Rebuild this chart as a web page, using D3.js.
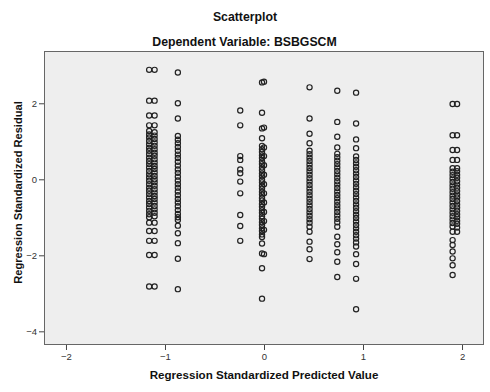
<!DOCTYPE html>
<html><head><meta charset="utf-8">
<script src="https://cdn.jsdelivr.net/npm/d3@7"></script>
<style>body{margin:0;background:#fff}svg{display:block}</style>
</head><body>
<svg id="chart" width="490" height="392"></svg>
<script>
// Predicted value (x) for each column of points
const colX = [-1.16, -1.105, -0.87, -0.24, -0.02, 0.00, 0.46, 0.74, 0.93, 1.905, 1.95];
// Standardized residuals (y) per column
const resA1 = [2.88, 2.07, 1.68, 1.42, 1.27, 1.18, 1.10, 1.01, 0.92, 0.83, 0.75, 0.66, 0.57, 0.48, 0.40, 0.31, 0.22, 0.13, 0.05, -0.04, -0.13, -0.22, -0.30, -0.39, -0.48, -0.57, -0.65, -0.74, -0.83, -0.92, -1.00, -1.14, -1.36, -1.62, -1.99, -2.82];
const resA2 = [2.88, 2.07, 1.68, 1.42, 1.24, 1.15, 1.06, 0.97, 0.88, 0.79, 0.70, 0.62, 0.53, 0.44, 0.35, 0.27, 0.18, 0.09, 0.00, -0.08, -0.17, -0.26, -0.35, -0.44, -0.52, -0.61, -0.70, -0.79, -0.88, -0.97, -1.14, -1.36, -1.62, -1.99, -2.82];
const resB = [2.81, 2.00, 1.60, 1.14, 1.04, 0.95, 0.85, 0.75, 0.65, 0.56, 0.46, 0.36, 0.26, 0.17, 0.07, -0.03, -0.13, -0.22, -0.32, -0.42, -0.52, -0.61, -0.71, -0.81, -0.91, -1.00, -1.07, -1.22, -1.42, -1.68, -2.09, -2.89];
const resC = [1.81, 1.42, 0.61, 0.51, 0.26, 0.16, -0.06, -0.37, -0.94, -1.23, -1.62];
const resD1 = [2.55, 1.75, 1.34, 1.08, 0.88, 0.79, 0.72, 0.63, 0.56, 0.47, 0.40, 0.31, 0.24, 0.15, 0.08, -0.01, -0.08, -0.17, -0.24, -0.33, -0.40, -0.49, -0.56, -0.65, -0.72, -0.81, -0.88, -0.97, -1.04, -1.13, -1.20, -1.29, -1.36, -1.45, -1.52, -1.69, -1.95, -2.34, -3.14];
const resD2 = [2.57, 1.36, 0.84, 0.61, 0.37, 0.12, -0.13, -0.37, -0.61, -0.86, -1.10, -1.33, -1.97];
const resE = [2.42, 1.60, 1.20, 0.95, 0.75, 0.66, 0.57, 0.48, 0.39, 0.30, 0.21, 0.12, 0.03, -0.06, -0.15, -0.24, -0.33, -0.42, -0.51, -0.60, -0.69, -0.78, -0.87, -0.96, -1.05, -1.14, -1.25, -1.38, -1.64, -1.84, -2.10];
const resF = [2.33, 1.51, 1.12, 0.84, 0.67, 0.58, 0.49, 0.40, 0.31, 0.22, 0.13, 0.04, -0.05, -0.14, -0.23, -0.32, -0.41, -0.50, -0.59, -0.68, -0.77, -0.86, -0.95, -1.04, -1.13, -1.25, -1.51, -1.71, -1.92, -2.17, -2.57];
const resG = [2.28, 1.47, 1.05, 0.82, 0.60, 0.51, 0.42, 0.33, 0.24, 0.15, 0.06, -0.03, -0.12, -0.21, -0.30, -0.39, -0.48, -0.57, -0.66, -0.75, -0.84, -0.93, -1.02, -1.11, -1.20, -1.29, -1.38, -1.47, -1.56, -1.66, -1.77, -1.97, -2.23, -2.62, -3.42];
const resH1 = [1.98, 1.16, 0.77, 0.51, 0.29, 0.20, 0.11, 0.02, -0.07, -0.16, -0.25, -0.34, -0.43, -0.52, -0.61, -0.70, -0.79, -0.88, -0.97, -1.06, -1.15, -1.24, -1.38, -1.60, -1.73, -1.90, -2.08, -2.26, -2.52];
const resH2 = [1.98, 1.16, 0.77, 0.51, 0.29, 0.21, 0.12, 0.04, -0.05, -0.14, -0.22, -0.31, -0.40, -0.48, -0.57, -0.66, -0.74, -0.83, -0.92, -1.00, -1.09, -1.17, -1.27, -1.38];
const columns = [resA1, resA2, resB, resC, resD1, resD2, resE, resF, resG, resH1, resH2];

const xTicks = [-2, -1, 0, 1, 2];
const yTicks = [2, 0, -2, -4];
const title1 = "Scatterplot";
const title2 = "Dependent Variable: BSBGSCM";
const xTitle = "Regression Standardized Predicted Value";
const yTitle = "Regression Standardized Residual";

const points = [];
columns.forEach((arr, i) => arr.forEach(v => points.push({x: colX[i], y: v})));

const svg = d3.select("#chart");
const L = 44, R = 484, T = 51, B = 345;
const x = d3.scaleLinear().domain([-2.222, 2.222]).range([L, R]);
const y = d3.scaleLinear().domain([-4.36, 3.376]).range([B, T]);
const font = "Arial, 'Liberation Sans', Helvetica, sans-serif";

svg.append("rect").attr("x", L).attr("y", T).attr("width", R - L).attr("height", B - T)
  .attr("fill", "#eeeeee");

svg.append("g").selectAll("circle").data(points).join("circle")
  .attr("cx", d => x(d.x)).attr("cy", d => y(d.y)).attr("r", 2.6)
  .attr("fill", "none").attr("stroke", "#222").attr("stroke-width", 1.2);

svg.append("rect").attr("x", L + 0.5).attr("y", T + 0.5).attr("width", R - L - 1).attr("height", B - T - 1)
  .attr("fill", "none").attr("stroke", "#666").attr("stroke-width", 1);

const xAxis = svg.append("g").attr("transform", `translate(0,${B})`)
  .call(d3.axisBottom(x).tickValues(xTicks).tickSize(5).tickPadding(3).tickFormat(d3.format("d")));
const yAxis = svg.append("g").attr("transform", `translate(${L},0)`)
  .call(d3.axisLeft(y).tickValues(yTicks).tickSize(5).tickPadding(2).tickFormat(d3.format("d")));
[xAxis, yAxis].forEach(g => {
  g.select(".domain").remove();
  g.selectAll("line").attr("stroke", "#444");
  g.selectAll("text").attr("fill", "#333").style("font-family", font).style("font-size", "9.5px");
});

svg.append("text").attr("x", 245).attr("y", 21).attr("text-anchor", "middle")
  .style("font-family", font).style("font-size", "12.3px").style("font-weight", "bold").attr("fill", "#111").text(title1);
svg.append("text").attr("x", 244.5).attr("y", 45.5).attr("text-anchor", "middle")
  .style("font-family", font).style("font-size", "12.3px").style("font-weight", "bold").attr("fill", "#111").text(title2);
svg.append("text").attr("x", 264).attr("y", 379).attr("text-anchor", "middle")
  .style("font-family", font).style("font-size", "11.6px").style("font-weight", "bold").attr("fill", "#111").text(xTitle);
svg.append("text").attr("transform", "translate(22,192.5) rotate(-90)").attr("text-anchor", "middle")
  .style("font-family", font).style("font-size", "11.1px").style("font-weight", "bold").attr("fill", "#111").text(yTitle);
</script>
</body></html>
